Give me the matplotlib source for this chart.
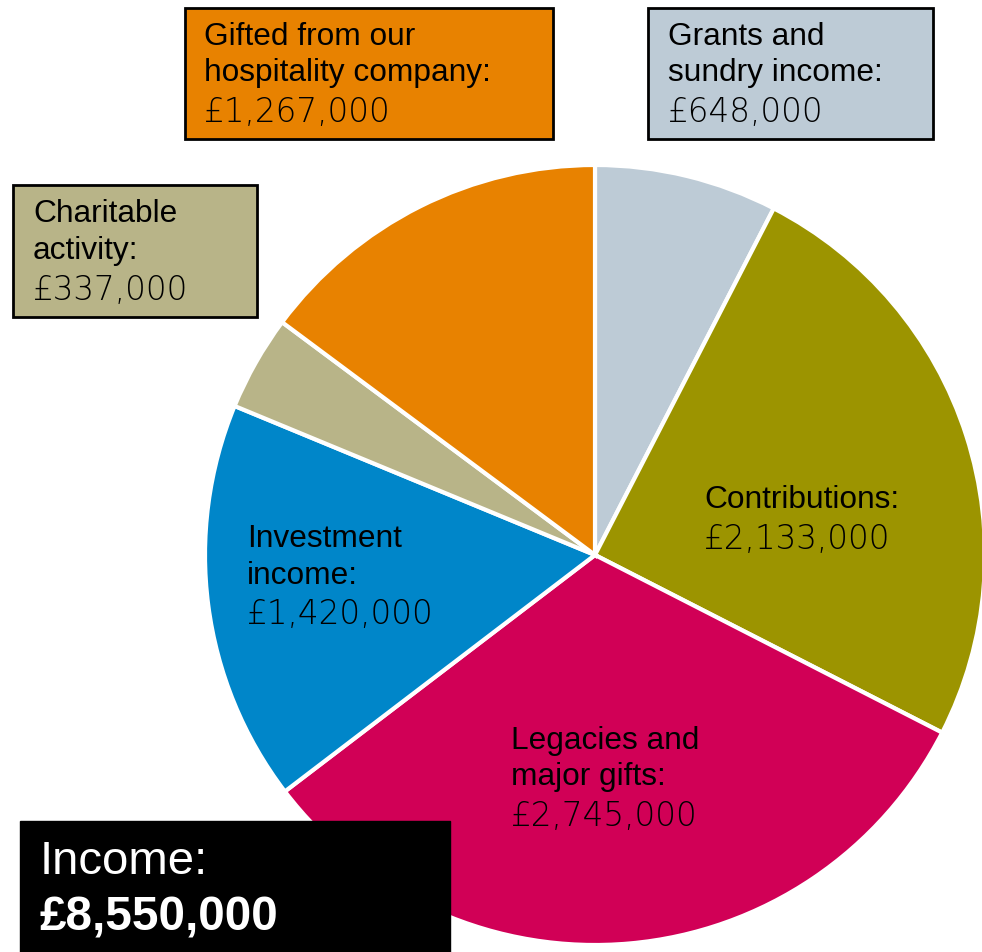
import matplotlib.pyplot as plt
from matplotlib.patches import Rectangle

# income split, in thousands of pounds (clockwise from 12 o'clock)
categories = ['Grants and\nsundry income:', 'Contributions:', 'Legacies and\nmajor gifts:',
              'Investment\nincome:', 'Charitable\nactivity:', 'Gifted from our\nhospitality company:']
values = [648, 2133, 2745, 1420, 337, 1267]
colors = ['#bdcbd6', '#9c9400', '#d10056', '#0086c9', '#b8b488', '#e88200']
total_label = 'Income:'

W, H = 982, 952
fig = plt.figure(figsize=(W / 100, H / 100), dpi=100)
ax = fig.add_axes([0, 0, 1, 1])

# pie in pixel coords, y axis flipped so it reads like the image
ax.pie(values, colors=colors, center=(595, 555), radius=390, startangle=-90,
       counterclock=True, wedgeprops=dict(edgecolor='white', linewidth=3))
ax.set_xlim(0, W)
ax.set_ylim(H, 0)
ax.set_aspect('equal')
ax.axis('off')

lab_font = 'Liberation Sans'
num_font = 'DejaVu Sans'
fs = 22.8


def money(v):
    return f"£{v * 1000:,}"


def label(x, y, i, boxed=None):
    # boxed = (x0, y0, w, h) for the call-out boxes outside the pie
    if boxed:
        bx, by, bw, bh = boxed
        ax.add_patch(Rectangle((bx, by), bw, bh, facecolor=colors[i],
                               edgecolor='black', linewidth=2, zorder=3))
    lines = categories[i].split('\n')
    yy = y
    for ln in lines:
        ax.text(x, yy, ln, fontsize=fs, family=lab_font, va='center', ha='left', zorder=4)
        yy += 36.5
    ax.text(x, yy + 3, money(values[i]), fontsize=23.5, family=num_font, fontweight='light',
            va='center', ha='left', zorder=4)


label(668, 37, 0, boxed=(648, 8, 285, 131))
label(704, 500, 1)
label(511, 741, 2)
label(247, 539, 3)
label(33, 214, 4, boxed=(13, 185, 244, 132))
label(204, 37, 5, boxed=(185, 8, 368, 131))

# total box, bottom left
ax.add_patch(Rectangle((20, 821), 430, 140, facecolor='black', edgecolor='black', zorder=3))
ax.text(40, 862, total_label, fontsize=34, family=lab_font, color='white',
        va='center', ha='left', zorder=4)
ax.text(40, 918, money(sum(values)), fontsize=34.3, family=lab_font, fontweight='bold',
        color='white', va='center', ha='left', zorder=4)

fig.savefig('out.png', dpi=100)
